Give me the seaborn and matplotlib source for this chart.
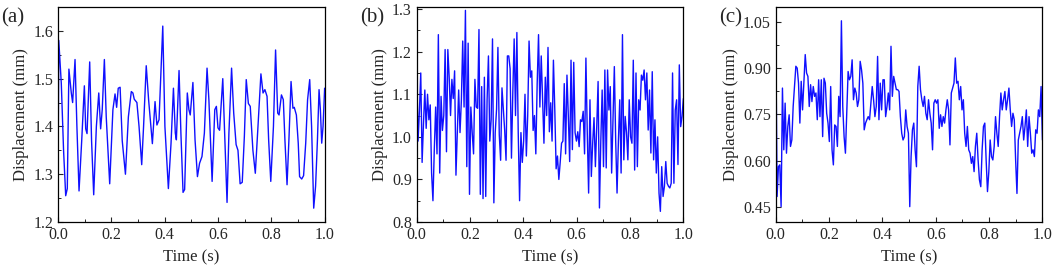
import numpy as np
import matplotlib
matplotlib.use('Agg')
import matplotlib.pyplot as plt
import seaborn as sns
from matplotlib.ticker import MultipleLocator, FormatStrFormatter

# Panel (a): smooth periodic response (time in s, displacement in mm)
time_a = [0.000, 0.003, 0.0125, 0.021, 0.029, 0.035, 0.041, 0.050, 0.055, 0.064,
          0.071, 0.079, 0.089, 0.099, 0.104, 0.109, 0.119, 0.126, 0.134, 0.144,
          0.153, 0.160, 0.166, 0.174, 0.181, 0.194, 0.206, 0.214, 0.220, 0.226,
          0.233, 0.241, 0.253, 0.264, 0.275, 0.281, 0.286, 0.296, 0.304, 0.314,
          0.321, 0.331, 0.340, 0.354, 0.364, 0.371, 0.379, 0.393, 0.401, 0.414,
          0.424, 0.433, 0.440, 0.444, 0.454, 0.461, 0.469, 0.475, 0.485, 0.491,
          0.496, 0.506, 0.514, 0.523, 0.531, 0.540, 0.549, 0.559, 0.566, 0.578,
          0.588, 0.594, 0.600, 0.606, 0.618, 0.625, 0.634, 0.641, 0.651, 0.659,
          0.668, 0.675, 0.683, 0.691, 0.699, 0.706, 0.714, 0.721, 0.731, 0.740,
          0.750, 0.761, 0.769, 0.776, 0.784, 0.790, 0.798, 0.808, 0.816, 0.824,
          0.829, 0.838, 0.845, 0.851, 0.859, 0.866, 0.874, 0.881, 0.886, 0.894,
          0.901, 0.906, 0.914, 0.921, 0.929, 0.936, 0.944, 0.951, 0.959, 0.966,
          0.973, 0.979, 0.984, 0.989, 0.994, 1.000]
disp_a = [1.25, 1.58, 1.49, 1.35, 1.255, 1.27, 1.52, 1.47, 1.45, 1.54,
          1.40, 1.265, 1.37, 1.485, 1.395, 1.385, 1.535, 1.37, 1.257, 1.40,
          1.47, 1.395, 1.435, 1.54, 1.42, 1.28, 1.435, 1.468, 1.44, 1.48,
          1.482, 1.37, 1.30, 1.42, 1.473, 1.47, 1.457, 1.45, 1.40, 1.32,
          1.40, 1.527, 1.455, 1.364, 1.452, 1.403, 1.414, 1.61, 1.40, 1.27,
          1.365, 1.48, 1.386, 1.372, 1.517, 1.386, 1.262, 1.268, 1.47, 1.435,
          1.424, 1.492, 1.372, 1.295, 1.323, 1.337, 1.386, 1.522, 1.455, 1.285,
          1.435, 1.442, 1.397, 1.392, 1.50, 1.386, 1.241, 1.386, 1.522, 1.428,
          1.362, 1.35, 1.28, 1.283, 1.38, 1.498, 1.448, 1.442, 1.35, 1.302,
          1.40, 1.51, 1.47, 1.477, 1.463, 1.372, 1.285, 1.40, 1.56, 1.428,
          1.424, 1.466, 1.456, 1.372, 1.278, 1.372, 1.494, 1.438, 1.44, 1.424,
          1.365, 1.295, 1.29, 1.297, 1.365, 1.456, 1.498, 1.40, 1.229, 1.275,
          1.372, 1.477, 1.435, 1.365, 1.40, 1.48]

# Panel (b): noisy response, uniformly sampled over 0-1 s
disp_b = [1.16, 0.99, 1.06, 1.15, 0.94, 1.03, 1.11, 1.02, 1.10, 1.04,
          1.075, 0.915, 0.85, 0.97, 1.07, 0.96, 1.24, 0.915, 1.095, 1.015,
          1.05, 1.205, 0.965, 1.205, 1.14, 1.05, 1.135, 1.09, 1.155, 0.91,
          1.01, 1.11, 1.01, 1.085, 1.225, 1.07, 1.297, 0.93, 1.22, 0.865,
          1.07, 1.01, 0.96, 1.135, 1.07, 1.067, 1.252, 0.865, 1.118, 0.855,
          1.14, 0.86, 1.087, 1.19, 0.99, 1.04, 1.23, 0.845, 1.01, 1.065,
          1.21, 1.005, 0.945, 1.115, 1.065, 1.015, 0.945, 1.19, 1.19, 1.16,
          0.95, 1.105, 1.23, 1.05, 1.245, 1.01, 0.85, 1.01, 0.94, 0.99,
          1.10, 0.955, 1.05, 1.225, 1.14, 1.155, 1.015, 1.05, 0.96, 1.125,
          1.24, 1.07, 1.19, 1.085, 0.985, 1.14, 1.05, 1.21, 1.012, 1.08,
          0.99, 1.18, 1.065, 0.925, 0.955, 0.90, 0.94, 0.985, 0.99, 1.125,
          0.96, 1.145, 1.05, 0.942, 1.18, 0.97, 1.175, 1.01, 0.99, 1.012,
          0.977, 1.04, 1.036, 1.06, 0.96, 1.185, 1.01, 0.868, 1.087, 0.907,
          0.985, 1.045, 0.93, 1.024, 1.13, 0.833, 0.99, 1.11, 0.93, 1.157,
          0.927, 1.157, 1.063, 1.118, 0.915, 1.04, 1.165, 0.99, 0.868, 0.99,
          1.087, 0.915, 1.24, 0.946, 1.048, 1.01, 0.946, 1.087, 1.0, 0.985,
          1.18, 0.922, 1.15, 0.93, 1.087, 1.063, 1.145, 1.133, 1.157, 1.087,
          1.15, 1.016, 1.11, 0.962, 1.153, 0.946, 1.04, 0.915, 1.0, 0.868,
          0.825, 0.93, 0.86, 0.884, 0.942, 0.891, 0.884, 0.88, 0.891, 1.15,
          0.891, 1.063, 1.087, 0.935, 1.169, 1.024, 1.048, 1.09]

# Panel (c): noisy response, uniformly sampled over 0-1 s
disp_c = [1.042, 0.483, 0.580, 0.586, 0.450, 0.836, 0.635, 0.787, 0.624, 0.711,
          0.749, 0.646, 0.667, 0.776, 0.841, 0.907, 0.901, 0.852, 0.722, 0.858,
          0.765, 0.852, 0.945, 0.885, 0.874, 0.776, 0.847, 0.792, 0.841, 0.809,
          0.820, 0.733, 0.863, 0.743, 0.863, 0.678, 0.868, 0.852, 0.754, 0.722,
          0.662, 0.841, 0.635, 0.586, 0.716, 0.711, 0.646, 0.809, 0.743, 1.055,
          0.776, 0.678, 0.624, 0.754, 0.890, 0.863, 0.874, 0.928, 0.798, 0.836,
          0.820, 0.776, 0.798, 0.923, 0.896, 0.852, 0.700, 0.722, 0.733, 0.743,
          0.733, 0.787, 0.841, 0.798, 0.743, 0.776, 0.939, 0.733, 0.852, 0.765,
          0.863, 0.863, 0.743, 0.776, 0.820, 0.765, 0.972, 0.809, 0.874, 0.852,
          0.831, 0.831, 0.825, 0.743, 0.689, 0.667, 0.678, 0.765, 0.711, 0.689,
          0.450, 0.613, 0.700, 0.722, 0.635, 0.580, 0.841, 0.907, 0.831, 0.798,
          0.776, 0.809, 0.754, 0.733, 0.798, 0.754, 0.722, 0.635, 0.787, 0.798,
          0.787, 0.798, 0.705, 0.749, 0.711, 0.743, 0.722, 0.765, 0.798, 0.765,
          0.651, 0.820, 0.836, 0.852, 0.934, 0.852, 0.858, 0.798, 0.841, 0.765,
          0.798, 0.689, 0.646, 0.711, 0.635, 0.624, 0.591, 0.613, 0.564, 0.646,
          0.689, 0.602, 0.537, 0.515, 0.635, 0.711, 0.722, 0.602, 0.499, 0.564,
          0.667, 0.613, 0.602, 0.646, 0.743, 0.689, 0.646, 0.743, 0.820, 0.765,
          0.798, 0.825, 0.765, 0.798, 0.836, 0.765, 0.711, 0.754, 0.733, 0.602,
          0.493, 0.667, 0.689, 0.711, 0.743, 0.667, 0.711, 0.765, 0.646, 0.743,
          0.689, 0.624, 0.635, 0.613, 0.700, 0.689, 0.765, 0.743, 0.841, 0.667]

time_b = np.linspace(0, 1, len(disp_b))
time_c = np.linspace(0, 1, len(disp_c))

panels = ['(a)', '(b)', '(c)']
x_ticks = [0.0, 0.2, 0.4, 0.6, 0.8, 1.0]

sns.set_style('ticks')
plt.rcParams['font.family'] = ['Liberation Serif', 'DejaVu Serif']
plt.rcParams['xtick.direction'] = 'in'
plt.rcParams['ytick.direction'] = 'in'

fig = plt.figure(figsize=(10.52, 2.68), dpi=100)
lefts = [0.0551, 0.3961, 0.7374]
axes = [fig.add_axes([l, 0.1716, 0.2535, 0.8024]) for l in lefts]

series = [(time_a, disp_a), (time_b, disp_b), (time_c, disp_c)]
ylims = [(1.2, 1.65), (0.8, 1.305), (0.40, 1.10)]
ysteps = [0.1, 0.1, 0.15]
yfmt = ['%.1f', '%.1f', '%.2f']

for i, ax in enumerate(axes):
    t, d = series[i]
    sns.lineplot(x=t, y=d, ax=ax, color='#1010ff', linewidth=1.0, sort=False)
    ax.set_xlim(0, 1)
    ax.set_ylim(*ylims[i])
    ax.set_xticks(x_ticks)
    ax.xaxis.set_major_formatter(FormatStrFormatter('%.1f'))
    ax.xaxis.set_minor_locator(MultipleLocator(0.1))
    ax.yaxis.set_major_locator(MultipleLocator(ysteps[i]))
    ax.yaxis.set_minor_locator(MultipleLocator(ysteps[i] / 2))
    ax.yaxis.set_major_formatter(FormatStrFormatter(yfmt[i]))
    ax.tick_params(which='major', length=3.5, width=0.8, labelsize=11.5, pad=3.5)
    ax.tick_params(which='minor', length=2, width=0.7)
    for s in ax.spines.values():
        s.set_linewidth(0.9)
        s.set_color('black')
    ax.set_xlabel('Time (s)', fontsize=12, labelpad=5)
    ax.set_ylabel('Displacement (mm)', fontsize=12, labelpad=3)
    fig.text(lefts[i] - 0.054, 0.935, panels[i], fontsize=15, ha='left', va='center')

fig.savefig('out.png', dpi=100)
